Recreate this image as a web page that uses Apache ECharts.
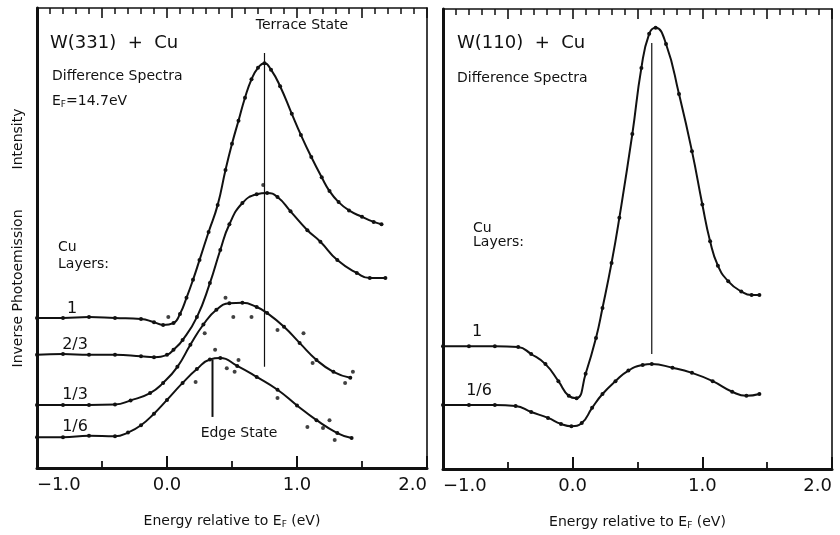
<!DOCTYPE html>
<html>
<head>
<meta charset="utf-8">
<script src="https://cdn.jsdelivr.net/npm/echarts@6/dist/echarts.min.js"></script>
<style>
  html, body { margin: 0; padding: 0; background: #fff; }
  #chart { width: 840px; height: 535px; }
</style>
</head>
<body>
<div id="chart"></div>
<script>
// energy (eV) and intensity (arb. units, 0..10)
// W(331) + Cu, left panel
var l1E  = [-1.0, -0.8, -0.6, -0.4, -0.2, -0.1, -0.03, 0.05, 0.1, 0.15, 0.2, 0.25, 0.32, 0.39, 0.45, 0.5, 0.55, 0.6, 0.65, 0.7, 0.75, 0.8, 0.87, 0.96, 1.03, 1.11, 1.19, 1.25, 1.32, 1.4, 1.5, 1.59, 1.65];
var l1V  = [3.26, 3.26, 3.28, 3.26, 3.24, 3.17, 3.11, 3.15, 3.35, 3.70, 4.09, 4.52, 5.13, 5.72, 6.48, 7.05, 7.55, 8.05, 8.45, 8.70, 8.80, 8.66, 8.30, 7.70, 7.24, 6.76, 6.32, 6.02, 5.78, 5.60, 5.46, 5.35, 5.30];
var l23E = [-1.0, -0.8, -0.6, -0.4, -0.2, -0.1, 0.0, 0.05, 0.12, 0.23, 0.33, 0.41, 0.48, 0.58, 0.69, 0.77, 0.85, 0.95, 1.08, 1.18, 1.31, 1.46, 1.56, 1.68];
var l23V = [2.46, 2.48, 2.46, 2.46, 2.43, 2.41, 2.46, 2.57, 2.78, 3.28, 4.02, 4.74, 5.30, 5.76, 5.95, 5.98, 5.89, 5.58, 5.17, 4.92, 4.52, 4.24, 4.13, 4.13];
var l13E = [-1.0, -0.8, -0.6, -0.4, -0.28, -0.13, -0.03, 0.08, 0.18, 0.28, 0.38, 0.48, 0.58, 0.69, 0.77, 0.9, 1.02, 1.15, 1.28, 1.41];
var l13V = [1.37, 1.37, 1.37, 1.38, 1.47, 1.63, 1.85, 2.20, 2.68, 3.12, 3.44, 3.58, 3.59, 3.50, 3.37, 3.07, 2.72, 2.35, 2.09, 1.96];
var l16E = [-1.0, -0.8, -0.6, -0.4, -0.3, -0.2, -0.1, 0.0, 0.12, 0.23, 0.33, 0.41, 0.54, 0.69, 0.85, 1.0, 1.15, 1.31, 1.42];
var l16V = [0.67, 0.67, 0.70, 0.69, 0.77, 0.93, 1.18, 1.48, 1.85, 2.15, 2.36, 2.39, 2.22, 1.98, 1.70, 1.36, 1.04, 0.76, 0.65];
// scattered data dots lying off the fitted curves
var dotsE = [0.45, 0.51, 0.65, 0.85, 1.05, 1.12, 1.37, 1.43, 0.29, 0.37, 0.22, 0.46, 0.52, 0.55, 0.85, 1.08, 1.25, 1.2, 1.29, 0.74, 0.01];
var dotsV = [3.70, 3.28, 3.28, 3.00, 2.93, 2.28, 1.85, 2.09, 2.93, 2.57, 1.87, 2.17, 2.09, 2.35, 1.52, 0.89, 1.04, 0.87, 0.61, 6.15, 3.28];

// W(110) + Cu, right panel
var r1E  = [-1.0, -0.8, -0.6, -0.42, -0.32, -0.21, -0.11, -0.03, 0.03, 0.1, 0.18, 0.23, 0.3, 0.36, 0.46, 0.53, 0.59, 0.64, 0.72, 0.82, 0.92, 1.0, 1.06, 1.12, 1.2, 1.3, 1.38, 1.44];
var r1V  = [2.67, 2.67, 2.67, 2.65, 2.50, 2.28, 1.91, 1.59, 1.54, 2.07, 2.85, 3.50, 4.48, 5.46, 7.28, 8.72, 9.46, 9.59, 9.24, 8.15, 6.91, 5.75, 4.95, 4.42, 4.08, 3.86, 3.78, 3.78];
var r16E = [-1.0, -0.8, -0.6, -0.44, -0.32, -0.19, -0.09, -0.01, 0.07, 0.15, 0.23, 0.33, 0.43, 0.54, 0.61, 0.77, 0.92, 1.08, 1.23, 1.34, 1.44];
var r16V = [1.39, 1.39, 1.39, 1.37, 1.24, 1.11, 0.98, 0.93, 1.00, 1.33, 1.63, 1.91, 2.14, 2.26, 2.28, 2.20, 2.09, 1.91, 1.68, 1.59, 1.63];

// marker lines: [energy, lowIntensity, highIntensity]
var terraceLine = [0.75, 2.2, 9.02];
var edgeLine    = [0.35, 1.11, 2.35];
var peakLine110 = [0.61, 2.5, 9.26];

var xTicks = [-1, 2];   // energy range of both panels
var yRange = [0, 10];

var FONT = '"DejaVu Sans", sans-serif';
var INK = '#111';

function zip(a, b) {
    var out = [];
    for (var i = 0; i < a.length; i++) out.push([a[i], b[i]]);
    return out;
}
function vline(m) { return [[m[0], m[1]], [m[0], m[2]]]; }

function fmt(v) {
    return v.toFixed(1).replace('-', '\u2212');
}

function bottomAxis(grid) {
    return {
        gridIndex: grid, type: 'value', position: 'bottom',
        min: xTicks[0], max: xTicks[1], interval: 1,
        name: 'Energy relative to E{s|F} (eV)',
        nameLocation: 'middle', nameGap: 45,
        nameTextStyle: { fontFamily: FONT, fontSize: 14, color: INK,
            rich: { s: { fontFamily: FONT, fontSize: 9, color: INK, padding: [7, 0, 0, 0] } } },
        axisLine: { show: true, onZero: false, lineStyle: { color: INK, width: 3 } },
        axisTick: { show: true, inside: true, length: 12, lineStyle: { color: INK, width: 2 } },
        minorTick: { show: true, splitNumber: 2, length: 7, lineStyle: { color: INK, width: 1.8 } },
        axisLabel: { show: true, fontFamily: FONT, fontSize: 18, color: INK, margin: 8,
            alignMinLabel: 'left', alignMaxLabel: 'right', formatter: fmt },
        splitLine: { show: false }
    };
}
function topAxis(grid) {
    return {
        gridIndex: grid, type: 'value', position: 'top',
        min: xTicks[0], max: xTicks[1], interval: 0.5,
        axisLine: { show: true, onZero: false, lineStyle: { color: INK, width: 1.6 } },
        axisTick: { show: true, inside: true, length: 10, lineStyle: { color: INK, width: 1.6 } },
        minorTick: { show: true, splitNumber: 5, length: 6, lineStyle: { color: INK, width: 1.5 } },
        axisLabel: { show: false },
        splitLine: { show: false }
    };
}
function sideAxis(grid, pos, w, name) {
    var ax = {
        gridIndex: grid, type: 'value', position: pos,
        min: yRange[0], max: yRange[1],
        axisLine: { show: true, onZero: false, lineStyle: { color: INK, width: w } },
        axisTick: { show: false },
        axisLabel: { show: false },
        splitLine: { show: false }
    };
    if (name) {
        ax.name = name;
        ax.nameLocation = 'middle';
        ax.nameRotate = 90;
        ax.nameGap = 12;
        ax.nameTextStyle = { fontFamily: FONT, fontSize: 14, color: INK };
    }
    return ax;
}

function curve(data, xi, yi) {
    return {
        type: 'line', xAxisIndex: xi, yAxisIndex: yi, data: data,
        smooth: 0.5,
        showSymbol: true, symbol: 'circle', symbolSize: 4,
        itemStyle: { color: INK },
        lineStyle: { color: INK, width: 2 },
        silent: true, z: 3
    };
}
function marker(data, xi, yi, w) {
    return {
        type: 'line', xAxisIndex: xi, yAxisIndex: yi, data: data,
        showSymbol: false, lineStyle: { color: INK, width: w }, silent: true, z: 2
    };
}

function label(x, y, text, size, align) {
    return {
        type: 'text', x: x, y: y, silent: true,
        style: { text: text, font: size + 'px ' + FONT, fill: INK,
            align: align || 'left', verticalAlign: 'middle' }
    };
}

var chart = echarts.init(document.getElementById('chart'), null, { renderer: 'canvas' });

chart.setOption({
    backgroundColor: '#fff',
    animation: false,
    grid: [
        { left: 37, top: 8, width: 390, height: 460 },
        { left: 443, top: 9, width: 389, height: 460 }
    ],
    xAxis: [bottomAxis(0), topAxis(0), bottomAxis(1), topAxis(1)],
    yAxis: [
        sideAxis(0, 'left', 3, 'Inverse Photoemission         Intensity'),
        sideAxis(0, 'right', 1.6),
        sideAxis(1, 'left', 3),
        sideAxis(1, 'right', 1.6)
    ],
    series: [
        curve(zip(l1E, l1V), 0, 0),
        curve(zip(l23E, l23V), 0, 0),
        curve(zip(l13E, l13V), 0, 0),
        curve(zip(l16E, l16V), 0, 0),
        {
            type: 'scatter', xAxisIndex: 0, yAxisIndex: 0,
            data: zip(dotsE, dotsV), symbolSize: 4,
            itemStyle: { color: INK }, silent: true, z: 3
        },
        marker(vline(terraceLine), 0, 0, 1.2),
        marker(vline(edgeLine), 0, 0, 2),
        curve(zip(r1E, r1V), 2, 2),
        curve(zip(r16E, r16V), 2, 2),
        marker(vline(peakLine110), 2, 2, 1.2)
    ],
    graphic: [
        label(50, 43, 'W(331)  +  Cu', 18),
        label(52, 76, 'Difference Spectra', 14),
        {
            type: 'text', x: 52, y: 101, silent: true,
            style: { text: 'E{s|F}=14.7eV', font: '14px ' + FONT, fill: INK, verticalAlign: 'middle',
                rich: { s: { fontFamily: FONT, fontSize: 9, fill: INK, padding: [7, 0, 0, 0] } } }
        },
        label(302, 25, 'Terrace State', 14, 'center'),
        label(239, 433, 'Edge State', 14, 'center'),
        label(58, 247, 'Cu', 14),
        label(58, 264, 'Layers:', 14),
        label(72, 309, '1', 16, 'center'),
        label(75, 345, '2/3', 16, 'center'),
        label(75, 395, '1/3', 16, 'center'),
        label(75, 427, '1/6', 16, 'center'),

        label(457, 43, 'W(110)  +  Cu', 18),
        label(457, 78, 'Difference Spectra', 14),
        label(473, 228, 'Cu', 14),
        label(473, 242, 'Layers:', 14),
        label(477, 332, '1', 16, 'center'),
        label(479, 391, '1/6', 16, 'center')
    ]
});
</script>
</body>
</html>
